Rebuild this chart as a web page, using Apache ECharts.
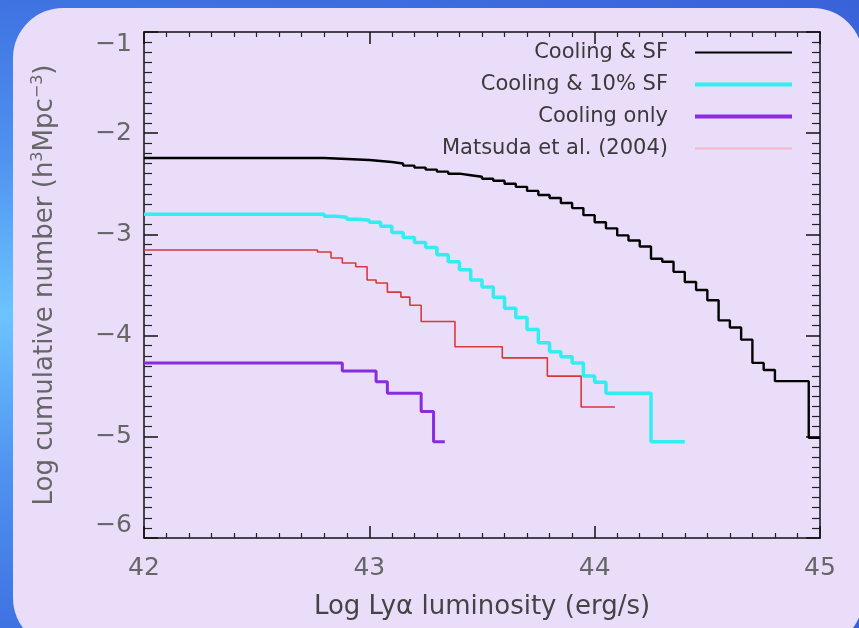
<!DOCTYPE html>
<html>
<head>
<meta charset="utf-8">
<script src="https://cdn.jsdelivr.net/npm/echarts@6/dist/echarts.min.js"></script>
<style>
  html, body { margin:0; padding:0; width:859px; height:628px; overflow:hidden; }
  body { background: radial-gradient(ellipse at 0% 50%, #6cc4ff 0%, #4f93f0 35%, #3d6ee0 75%, #3a62d8 100%); position:relative; }
  #panel { position:absolute; left:13px; top:8px; width:850px; height:640px; border-radius:50px; background:#e9ddf9; }
  #chart { position:absolute; left:0; top:0; width:859px; height:628px; }
</style>
</head>
<body>
<div id="panel"></div>
<div id="chart"></div>
<script>
// ---- data ----
const seriesNames = ['Cooling & SF', 'Cooling & 10% SF', 'Cooling only', 'Matsuda et al. (2004)'];
const xTickLabels = ['42', '43', '44', '45'];
const yTickLabels = ['−6', '−5', '−4', '−3', '−2', '−1'];

const sfX = [42.00, 42.80, 42.85, 42.90, 42.95, 43.00, 43.05, 43.10, 43.15, 43.20, 43.25, 43.30, 43.35, 43.40, 43.45, 43.50, 43.55, 43.60, 43.65, 43.70, 43.75, 43.80, 43.85, 43.90, 43.95, 44.00, 44.05, 44.10, 44.15, 44.20, 44.25, 44.30, 44.35, 44.40, 44.45, 44.50, 44.55, 44.60, 44.65, 44.70, 44.75, 44.80, 44.85, 44.90, 44.95, 45.00];
const sfY = [-2.245, -2.25, -2.255, -2.26, -2.265, -2.275, -2.285, -2.30, -2.32, -2.34, -2.36, -2.38, -2.40, -2.415, -2.43, -2.45, -2.47, -2.50, -2.53, -2.57, -2.61, -2.64, -2.69, -2.74, -2.81, -2.88, -2.94, -3.01, -3.06, -3.12, -3.24, -3.27, -3.37, -3.47, -3.55, -3.65, -3.85, -3.92, -4.04, -4.27, -4.34, -4.45, -4.45, -4.45, -5.01, -5.01];

const sf10X = [42.00, 42.80, 42.85, 42.90, 42.95, 43.00, 43.05, 43.10, 43.15, 43.20, 43.25, 43.30, 43.35, 43.40, 43.45, 43.50, 43.55, 43.60, 43.65, 43.70, 43.75, 43.80, 43.85, 43.90, 43.95, 44.00, 44.05, 44.10, 44.15, 44.20, 44.25, 44.30, 44.35, 44.40];
const sf10Y = [-2.80, -2.82, -2.83, -2.85, -2.86, -2.88, -2.92, -2.98, -3.03, -3.08, -3.13, -3.20, -3.27, -3.35, -3.45, -3.52, -3.62, -3.73, -3.82, -3.94, -4.07, -4.16, -4.21, -4.27, -4.40, -4.46, -4.57, -4.57, -4.57, -4.57, -5.05, -5.05, -5.05, -5.05];

const coolX = [42.00, 42.88, 43.03, 43.08, 43.23, 43.285, 43.335];
const coolY = [-4.27, -4.35, -4.455, -4.57, -4.75, -5.05, -5.05];

const matX = [42.00, 42.77, 42.83, 42.88, 42.94, 42.99, 43.03, 43.08, 43.14, 43.18, 43.23, 43.38, 43.59, 43.79, 43.94, 44.09];
const matY = [-3.154, -3.174, -3.233, -3.283, -3.32, -3.45, -3.48, -3.57, -3.62, -3.70, -3.86, -4.11, -4.22, -4.40, -4.705, -4.705];

// ---- chart ----
const zip = (xs, ys) => xs.map((x, i) => [x, ys[i]]);
const FONT = 'DejaVu Sans';
const chart = echarts.init(document.getElementById('chart'), null, { renderer: 'canvas' });

function xAxisCfg(pos, labels) {
  return {
    type: 'value', position: pos, min: 42, max: 45, interval: 1,
    axisLine: { show: true, onZero: false, lineStyle: { color: '#111', width: 1.5 } },
    axisTick: { show: true, inside: true, length: 12, lineStyle: { color: '#111', width: 1.5 } },
    minorTick: { show: true, splitNumber: 10, length: 5, lineStyle: { color: '#222', width: 1.2 } },
    splitLine: { show: false }, minorSplitLine: { show: false },
    axisLabel: {
      show: labels, margin: 18, color: '#666', fontFamily: FONT, fontSize: 25,
      formatter: v => xTickLabels[Math.round(v - 42)]
    },
    name: labels ? 'Log Lyα luminosity (erg/s)' : '',
    nameLocation: 'middle', nameGap: 56,
    nameTextStyle: { color: '#444', fontFamily: FONT, fontSize: 26 }
  };
}
function yAxisCfg(pos, labels) {
  return {
    type: 'value', position: pos, min: -6, max: -1, interval: 1,
    axisLine: { show: true, onZero: false, lineStyle: { color: '#111', width: 1.5 } },
    axisTick: { show: true, inside: true, length: 14, lineStyle: { color: '#111', width: 1.5 } },
    minorTick: { show: true, splitNumber: 10, length: 8, lineStyle: { color: '#222', width: 1.2 } },
    splitLine: { show: false }, minorSplitLine: { show: false },
    axisLabel: {
      show: labels, margin: 12, color: '#666', fontFamily: FONT, fontSize: 25,
      formatter: v => yTickLabels[Math.round(v + 6)],
      verticalAlignMinLabel: 'bottom', verticalAlignMaxLabel: 'top'
    },
    name: labels ? '{t|Log cumulative number (h}{s|3}{t|Mpc}{s|−3}{t|)}' : '',
    nameLocation: 'middle', nameGap: 84, nameRotate: 90,
    nameTextStyle: {
      rich: {
        t: { color: '#666', fontFamily: FONT, fontSize: 26 },
        s: { color: '#666', fontFamily: FONT, fontSize: 16, padding: [0, 0, 14, 0] }
      }
    }
  };
}

chart.setOption({
  backgroundColor: 'transparent',
  animation: false,
  grid: { left: 144, top: 32, right: 39, bottom: 90 },
  xAxis: [xAxisCfg('bottom', true), xAxisCfg('top', false)],
  yAxis: [yAxisCfg('left', true), yAxisCfg('right', false)],
  legend: {
    orient: 'vertical', right: 60, top: 37, align: 'right',
    itemWidth: 97, itemHeight: 14, itemGap: 11,
    itemStyle: { opacity: 0, borderWidth: 0 },
    textStyle: { color: '#3a3a3a', fontFamily: FONT, fontSize: 21, padding: [0, 22, 0, 0] },
    data: [
      { name: seriesNames[0], lineStyle: { width: 2 } },
      { name: seriesNames[1], lineStyle: { width: 4 } },
      { name: seriesNames[2], lineStyle: { width: 4 } },
      { name: seriesNames[3], lineStyle: { color: '#f2b8c6', width: 2 } }
    ]
  },
  series: [
    { name: seriesNames[0], type: 'line', step: 'end', symbol: 'none', data: zip(sfX, sfY),
      color: '#000', lineStyle: { color: '#000', width: 2.4 } },
    { name: seriesNames[1], type: 'line', step: 'end', symbol: 'none', data: zip(sf10X, sf10Y),
      color: '#33eef0', lineStyle: { color: '#33eef0', width: 3.5 } },
    { name: seriesNames[2], type: 'line', step: 'end', symbol: 'none', data: zip(coolX, coolY),
      color: '#8a2be0', lineStyle: { color: '#8a2be0', width: 3 } },
    { name: seriesNames[3], type: 'line', step: 'end', symbol: 'none', data: zip(matX, matY),
      color: '#d83a3a', lineStyle: { color: '#d83a3a', width: 1.6 } }
  ]
});
</script>
</body>
</html>
